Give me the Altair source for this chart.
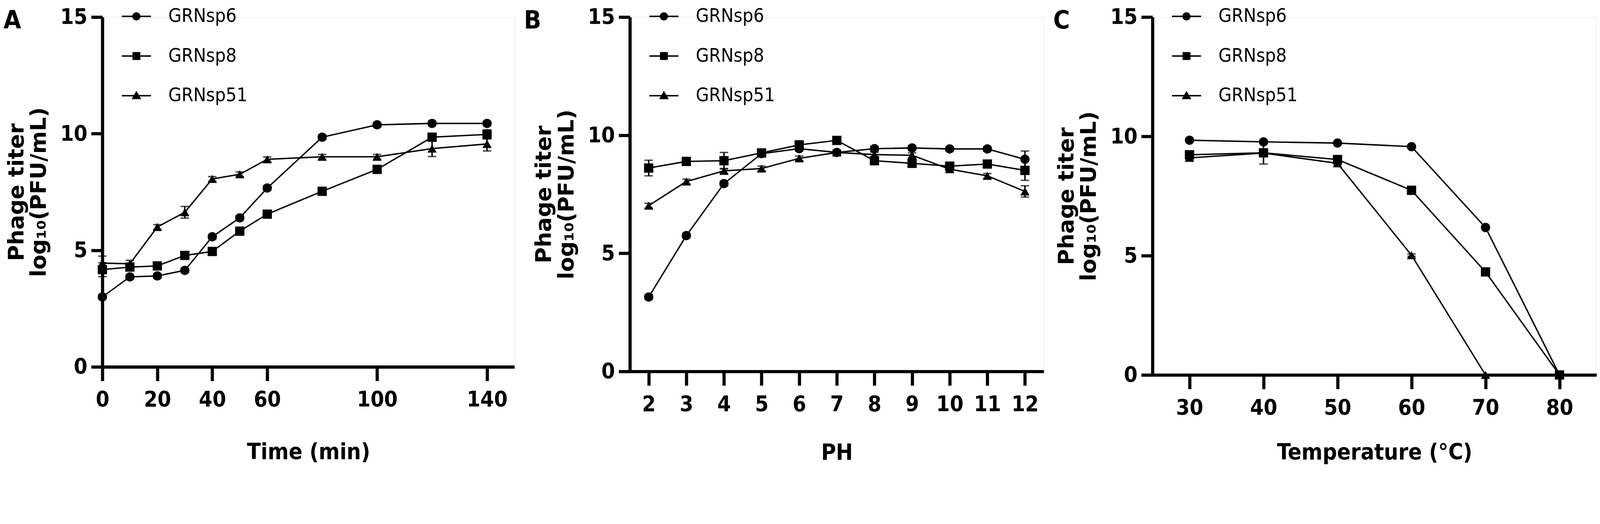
import altair as alt
import pandas as pd

SERIES = ["GRNsp6", "GRNsp8", "GRNsp51"]
PANEL_LETTERS = ["A", "B", "C"]

# Panel A: time course
time_min = [0, 10, 20, 30, 40, 50, 60, 80, 100, 120, 140]
time_sp6 = [3.0, 3.86, 3.9, 4.14, 5.58, 6.39, 7.67, 9.85, 10.38, 10.44, 10.44]
time_sp8 = [4.17, 4.28, 4.33, 4.78, 4.95, 5.82, 6.55, 7.53, 8.47, 9.85, 9.97]
time_sp51 = [4.45, 4.42, 6.0, 6.63, 8.06, 8.26, 8.90, 9.01, 9.01, 9.36, 9.56]
time_sp6_err = [0.1, 0.1, 0.1, 0.1, 0.1, 0.1, 0.1, 0.1, 0.1, 0.1, 0.1]
time_sp8_err = [0.3, 0.15, 0.1, 0.1, 0.1, 0.1, 0.1, 0.1, 0.15, 0.1, 0.2]
time_sp51_err = [0.3, 0.15, 0.1, 0.25, 0.1, 0.1, 0.1, 0.1, 0.1, 0.34, 0.3]

# Panel B: pH stability
ph = [2, 3, 4, 5, 6, 7, 8, 9, 10, 11, 12]
ph_sp6 = [3.15, 5.75, 7.95, 9.22, 9.43, 9.27, 9.43, 9.46, 9.42, 9.42, 8.98]
ph_sp8 = [8.61, 8.89, 8.92, 9.25, 9.59, 9.78, 8.92, 8.81, 8.69, 8.78, 8.51]
ph_sp51 = [7.02, 8.04, 8.49, 8.59, 9.02, 9.27, 9.18, 9.15, 8.56, 8.28, 7.62]
ph_sp6_err = [0.1, 0.1, 0.1, 0.1, 0.1, 0.1, 0.1, 0.1, 0.1, 0.1, 0.35]
ph_sp8_err = [0.33, 0.1, 0.35, 0.1, 0.1, 0.1, 0.1, 0.1, 0.1, 0.1, 0.42]
ph_sp51_err = [0.1, 0.1, 0.1, 0.1, 0.1, 0.1, 0.1, 0.1, 0.1, 0.1, 0.24]

# Panel C: thermal stability
temp_c = [30, 40, 50, 60, 70, 80]
temp_sp6 = [9.84, 9.77, 9.72, 9.57, 6.18, 0]
temp_sp8 = [9.23, 9.31, 9.03, 7.74, 4.32, 0]
temp_sp51 = [9.10, 9.30, 8.87, 5.02, 0, 0]
temp_sp6_err = [0.05, 0.05, 0.05, 0.05, 0.05, 0]
temp_sp8_err = [0.1, 0.47, 0.1, 0.1, 0.15, 0]
temp_sp51_err = [0.1, 0.1, 0.05, 0.05, 0, 0]

y_ticks = [0, 5, 10, 15]

NARROW = "Liberation Sans Narrow, Arial Narrow, DejaVu Sans Condensed, sans-serif"
WIDE = "DejaVu Sans, Liberation Sans, sans-serif"

# legend glyphs: a short horizontal bar with the series marker on it
LEG_PATHS = [
    "M-1,-0.05H1V0.05H-1ZM0.28,0A0.28,0.28,0,1,1,-0.28,0A0.28,0.28,0,1,1,0.28,0Z",
    "M-1,-0.05H1V0.05H-1ZM-0.27,-0.27H0.27V0.27H-0.27Z",
    "M-1,-0.05H1V0.05H-1ZM0,-0.33L0.33,0.24H-0.33Z",
]


def make_df(xs, vals, errs):
    rows = []
    for s, v, e in zip(SERIES, vals, errs):
        for xv, yv, ev in zip(xs, v, e):
            rows.append({"x": xv, "y": yv, "lo": yv - ev, "hi": yv + ev, "series": s})
    return pd.DataFrame(rows)


def panel(df, letter, letter_dx, xdom, xticks, xtitle, w, h, xtitle_y):
    xscale = alt.Scale(domain=xdom, nice=False, zero=False)
    yscale = alt.Scale(domain=[0, 15], nice=False, zero=False)
    xaxis = alt.Axis(
        values=xticks, title=xtitle, grid=False,
        domainColor="black", domainWidth=9, tickColor="black", tickWidth=9,
        tickSize=40, labelFont=NARROW, labelFontWeight="bold", labelFontSize=62,
        labelColor="black", labelPadding=23, labelFlush=False, labelOverlap=False,
        titleFont=NARROW, titleFontWeight="bold", titleFontSize=64, titleColor="black",
        titleBaseline="alphabetic", titleY=xtitle_y,
    )
    yaxis = alt.Axis(
        values=y_ticks, title=["Phage titer", "log₁₀(PFU/mL)"], grid=False,
        domainColor="black", domainWidth=9, tickColor="black", tickWidth=9,
        tickSize=32, labelFont=NARROW, labelFontWeight="bold", labelFontSize=62,
        labelColor="black", labelPadding=11, labelFlush=False, labelOverlap=False,
        titleFont=WIDE, titleFontWeight="bold", titleFontSize=62, titleColor="black",
        titleLineHeight=64, titleX=-213,
    )

    def X(f="x"):
        return alt.X(f + ":Q", scale=xscale, axis=xaxis)

    def Y(f):
        return alt.Y(f + ":Q", scale=yscale, axis=yaxis)

    base = alt.Chart(df)
    line = base.mark_line(color="black", strokeWidth=4).encode(
        x=X(), y=Y("y"), detail="series:N"
    )
    err = base.mark_rule(color="black", strokeWidth=4).encode(
        x=X(), y=Y("lo"), y2="hi:Q"
    )
    cap_lo = base.mark_tick(color="black", orient="horizontal", size=24, thickness=4).encode(
        x=X(), y=Y("lo")
    )
    cap_hi = base.mark_tick(color="black", orient="horizontal", size=24, thickness=4).encode(
        x=X(), y=Y("hi")
    )
    pts = base.mark_point(filled=True, color="black", opacity=1, size=700).encode(
        x=X(), y=Y("y"),
        shape=alt.Shape("series:N",
                        scale=alt.Scale(domain=SERIES, range=["circle", "square", "triangle-up"]),
                        legend=None),
    )
    leg = base.mark_point(filled=True, color="black", opacity=0, size=10).encode(
        x=X(), y=Y("y"),
        shape=alt.Shape("series:N",
                        scale=alt.Scale(domain=SERIES, range=LEG_PATHS),
                        legend=alt.Legend(
                            orient="none", legendX=55.5, legendY=-43.5, title=None,
                            padding=0, symbolSize=6889, symbolStrokeWidth=0,
                            symbolFillColor="black", symbolOpacity=1,
                            labelFont=NARROW, labelFontSize=54,
                            labelFontWeight="normal", labelColor="black",
                            labelOffset=49.5, rowPadding=44, labelLimit=800,
                        )),
    )
    tag = alt.Chart(pd.DataFrame({"label": [letter]})).mark_text(
        align="left", baseline="top", font=NARROW, fontSize=72, fontWeight="bold",
        color="black",
    ).encode(text="label:N", x=alt.value(letter_dx), y=alt.value(-24))
    return alt.layer(line, err, cap_lo, cap_hi, pts, leg, tag).resolve_scale(
        shape="independent"
    ).properties(width=w, height=h)


dfA = make_df(time_min, [time_sp6, time_sp8, time_sp51],
              [time_sp6_err, time_sp8_err, time_sp51_err])
dfB = make_df(ph, [ph_sp6, ph_sp8, ph_sp51], [ph_sp6_err, ph_sp8_err, ph_sp51_err])
dfC = make_df(temp_c, [temp_sp6, temp_sp8, temp_sp51],
              [temp_sp6_err, temp_sp8_err, temp_sp51_err])

pA = panel(dfA, PANEL_LETTERS[0], -282, [0, 150], time_min[::2], "Time (min)", 1175, 997, 262)
pB = panel(dfB, PANEL_LETTERS[1], -302, [1.5, 12.5], ph, "PH", 1180, 1010, 252)
pC = panel(dfC, PANEL_LETTERS[2], -283, [25, 85], temp_c, "Temperature (°C)", 1266, 1020, 240)

chart = alt.hconcat(pA, pB, pC, spacing=25).resolve_scale(
    shape="independent"
).resolve_legend(shape="independent").properties(
    padding={"top": -75, "left": 0, "right": 0, "bottom": 0}
).configure_view(stroke=None).configure(background="white")

chart.save("out.html", embed_options={"renderer": "svg", "actions": False})
